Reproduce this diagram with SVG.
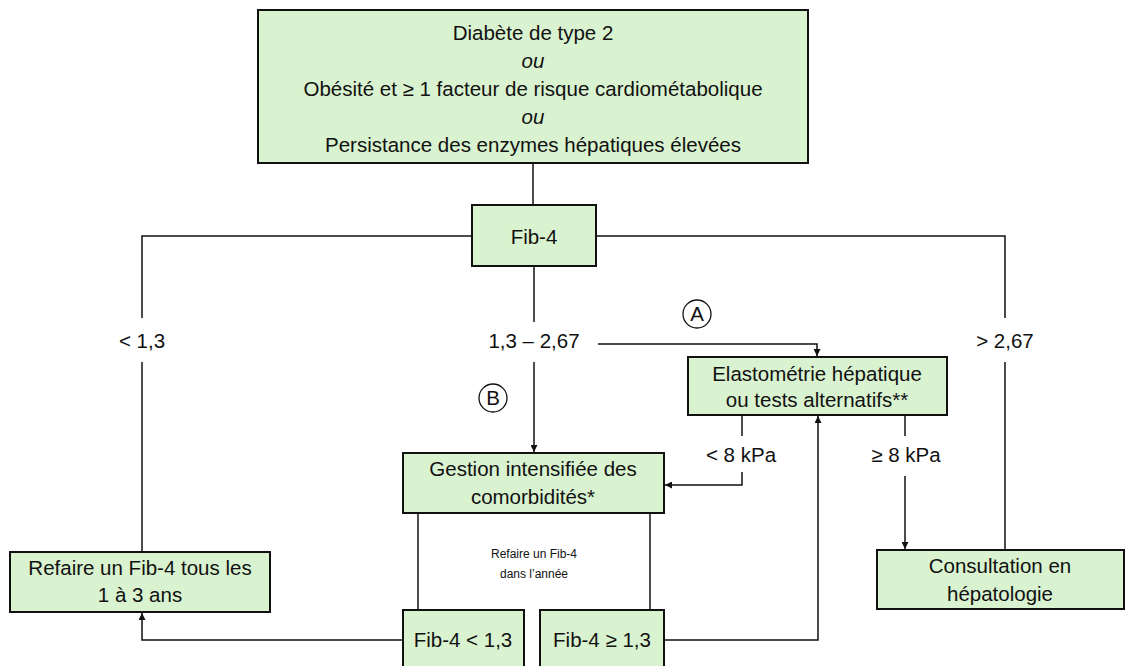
<svg xmlns="http://www.w3.org/2000/svg" width="1127" height="666" viewBox="0 0 1127 666">
<defs>
<style>
.box{fill:#d9f2d0;stroke:#111;stroke-width:2}
.t{font-family:"Liberation Sans",Arial,sans-serif;font-size:20.5px;fill:#111;text-anchor:middle}
.s{font-family:"Liberation Sans",Arial,sans-serif;font-size:12px;fill:#111;text-anchor:middle}
.c{fill:none;stroke:#111;stroke-width:1.5}
.circ{fill:#fff;stroke:#111;stroke-width:1.3}
</style>
<marker id="ar" viewBox="0 0 10 10" refX="10" refY="5" markerWidth="7" markerHeight="7" markerUnits="userSpaceOnUse" orient="auto">
<path d="M0,0 L10,5 L0,10 z" fill="#111"/>
</marker>
</defs>
<rect width="1127" height="666" fill="#fff"/>
<g id="connectors">
<path class="c" d="M533,163 V205"/>
<path class="c" d="M472,236 H142 V318"/>
<path class="c" d="M142,362 V552"/>
<path class="c" d="M596,236 H1005 V318"/>
<path class="c" d="M1005,362 V550"/>
<path class="c" d="M534,266 V322"/>
<path class="c" d="M534,362 V452" marker-end="url(#ar)"/>
<path class="c" d="M598,344 H817 V356" marker-end="url(#ar)"/>
<path class="c" d="M742,415 V436"/>
<path class="c" d="M742,472 V485 H665" marker-end="url(#ar)"/>
<path class="c" d="M905,415 V436"/>
<path class="c" d="M905,476 V549" marker-end="url(#ar)"/>
<path class="c" d="M665,640 H818 V416" marker-end="url(#ar)"/>
<path class="c" d="M418,513 V610"/>
<path class="c" d="M650,513 V610"/>
<path class="c" d="M403,640 H142 V613" marker-end="url(#ar)"/>
</g>
<g id="n-top">
<rect class="box" x="258" y="10" width="550" height="153"/>
<text class="t" x="533" y="40">Diabète de type 2</text>
<text class="t" x="533" y="68" font-style="italic">ou</text>
<text class="t" x="533" y="96">Obésité et ≥ 1 facteur de risque cardiométabolique</text>
<text class="t" x="533" y="124" font-style="italic">ou</text>
<text class="t" x="533" y="152">Persistance des enzymes hépatiques élevées</text>
</g>
<g id="n-fib4">
<rect class="box" x="472" y="205" width="124" height="61"/>
<text class="t" x="534" y="244">Fib-4</text>
</g>
<g id="labels">
<text class="t" x="142" y="348">&lt; 1,3</text>
<text class="t" x="534" y="348">1,3 – 2,67</text>
<text class="t" x="1005" y="348">&gt; 2,67</text>
<text class="t" x="741" y="462">&lt; 8 kPa</text>
<text class="t" x="906" y="462">≥ 8 kPa</text>
<text class="s" x="534" y="558">Refaire un Fib-4</text>
<text class="s" x="534" y="578">dans l’année</text>
</g>
<g id="circle-a">
<circle class="circ" cx="697" cy="314" r="14"/>
<text class="t" x="697" y="321">A</text>
</g>
<g id="circle-b">
<circle class="circ" cx="493" cy="398" r="14"/>
<text class="t" x="493" y="405">B</text>
</g>
<g id="n-elasto">
<rect class="box" x="688" y="357" width="259" height="58"/>
<text class="t" x="817" y="381">Elastométrie hépatique</text>
<text class="t" x="817" y="407">ou tests alternatifs**</text>
</g>
<g id="n-gestion">
<rect class="box" x="403" y="453" width="261" height="60"/>
<text class="t" x="533" y="476">Gestion intensifiée des</text>
<text class="t" x="533" y="504">comorbidités*</text>
</g>
<g id="n-refaire">
<rect class="box" x="10" y="552" width="260" height="60"/>
<text class="t" x="140" y="575">Refaire un Fib-4 tous les</text>
<text class="t" x="140" y="602">1 à 3 ans</text>
</g>
<g id="n-consult">
<rect class="box" x="877" y="550" width="247" height="59"/>
<text class="t" x="1000" y="573">Consultation en</text>
<text class="t" x="1000" y="601">hépatologie</text>
</g>
<g id="n-fib-low">
<rect class="box" x="403" y="610" width="121" height="62"/>
<text class="t" x="463" y="647">Fib-4 &lt; 1,3</text>
</g>
<g id="n-fib-high">
<rect class="box" x="540" y="610" width="124" height="62"/>
<text class="t" x="602" y="647">Fib-4 ≥ 1,3</text>
</g>
</svg>
